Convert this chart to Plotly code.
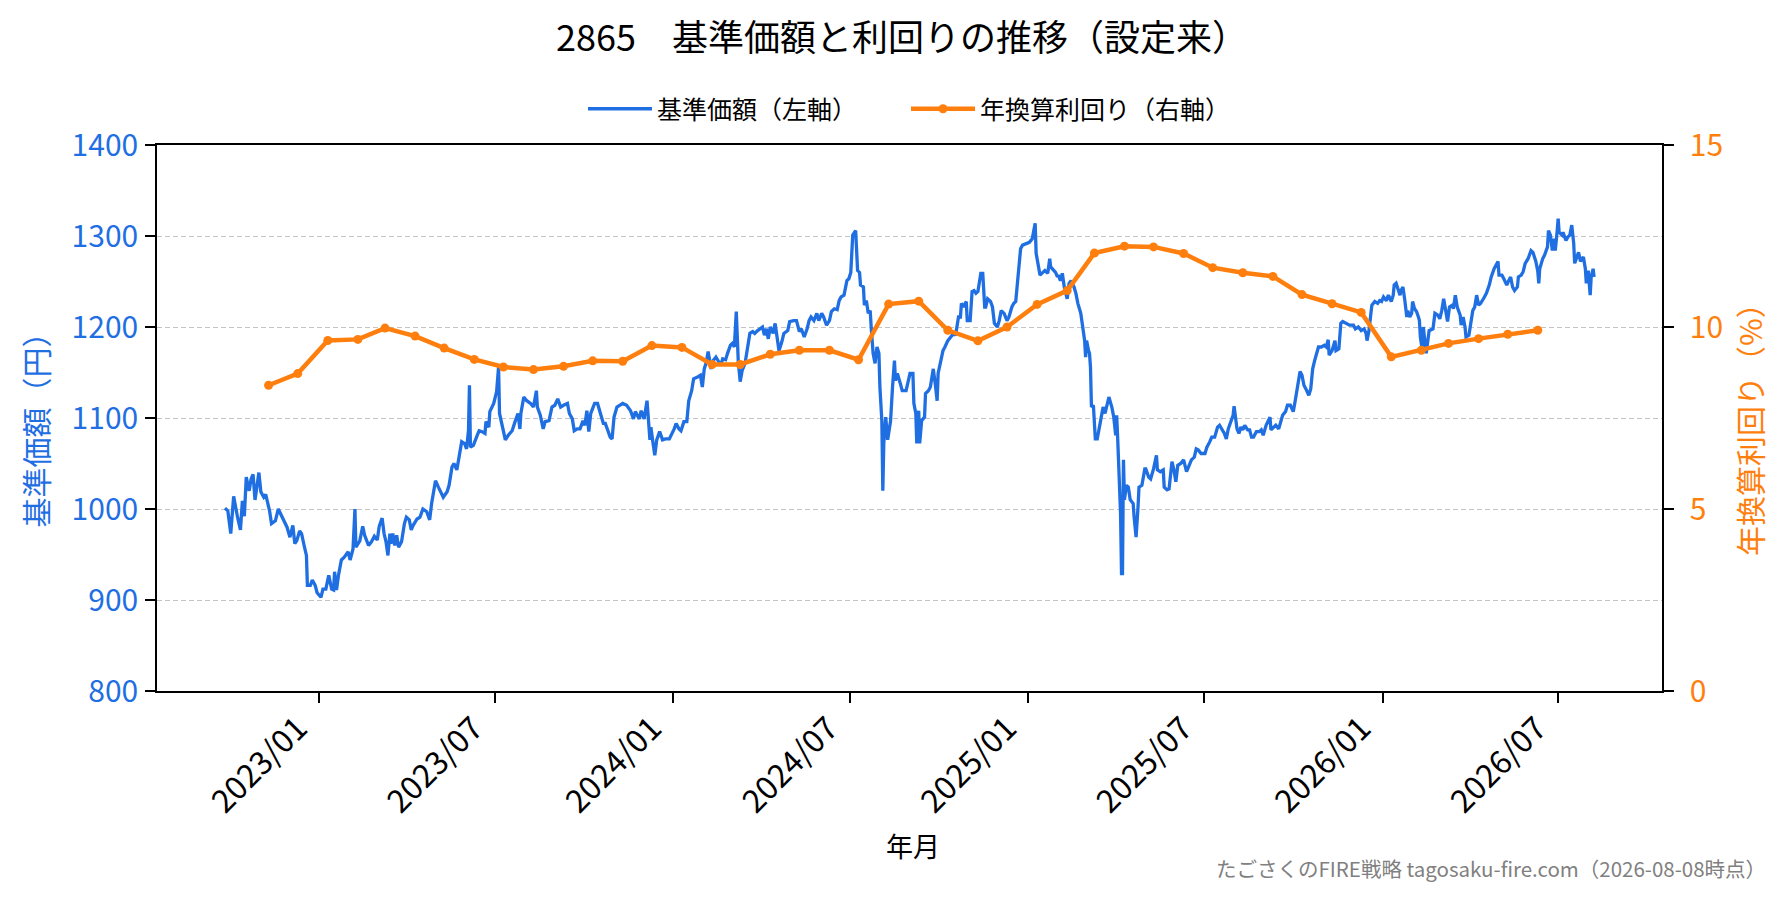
import pandas as pd
import plotly.graph_objects as go

# ---------------- data ----------------
BASE_DATE = "2023-01-01"  # price_day values are days counted from this date

price_day = [
    -97, -94, -91, -88, -84, -81, -79, -77, -75, -72, -70, -68, -66, -64, -62, -60, -57, -55, -51, -49,
    -45, -42, -39, -36, -33, -30, -27, -25, -23, -20, -18, -15, -13, -12, -9, -7, -4, -2, 2, 4,
    7, 10, 13, 15, 16, 18, 20, 23, 26, 30, 32, 35, 37, 38, 42, 45, 47, 51, 54, 57,
    60, 62, 65, 67, 69, 71, 73, 74, 76, 78, 80, 82, 85, 88, 90, 93, 95, 97, 101, 104,
    107, 111, 114, 116, 120, 123, 128, 132, 134, 137, 139, 142, 145, 147, 150, 152, 154, 155,
    156, 159, 163, 165, 168, 171, 172, 175, 176, 180, 183, 185, 186, 188, 192, 195, 199, 202,
    205, 207, 208, 211, 214, 218, 221, 224, 225, 228, 231, 233, 237, 240, 243, 246, 249, 252,
    256, 258, 261, 263, 266, 269, 272, 274, 276, 278, 280, 284, 287, 290, 293, 295, 298, 300,
    302, 304, 307, 310, 313, 317, 321,
    324, 326, 330, 332, 335, 338, 341, 342, 344, 346, 348, 351, 354, 357, 361, 363, 366, 368,
    371, 373, 376, 379, 381, 384, 386, 390, 393, 395, 397, 399, 401, 404, 406, 409, 411, 414,
    416, 419, 421, 424, 426, 428, 430, 432, 434, 436, 439, 441, 444, 447, 449, 452, 454, 457,
    459, 461, 463, 465, 468, 470, 472, 474, 477, 479, 483, 485, 489, 492, 495, 497, 500, 503,
    505, 507, 510, 513, 515, 518, 520, 523, 526, 528, 531, 534, 536, 538, 541, 544, 546, 548,
    550, 551, 553, 555, 557, 558, 561, 562, 564, 566, 568, 569, 571, 573, 575, 577, 578, 580,
    581, 582, 584, 586, 589, 591, 593, 594, 596, 599, 601, 605, 607, 609, 612, 613, 615, 616,
    618, 619, 621, 624, 625, 628, 630, 633, 635, 637, 638, 640, 643, 645, 648, 651, 654, 656,
    659, 661, 662, 664, 667, 668, 671, 673, 675, 677, 679, 682, 684, 686, 687, 689, 692, 694,
    696, 699, 701, 703, 706, 709, 711, 714, 716, 718, 720, 723, 725, 729, 732, 735, 738, 739,
    741, 743, 746, 748, 751, 753, 754, 757, 759, 761, 762, 764, 766, 768, 771, 773,
    775, 778, 780, 782, 785, 787, 789, 790, 791, 793, 794, 795,
    796, 798, 800, 802, 805, 808, 810, 812, 814, 817, 819, 821, 822, 823,
    825, 826, 827, 828, 829, 830, 832, 834, 836, 839, 840, 842, 844, 845, 848, 851, 852, 855,
    857, 860, 863, 864, 867, 870, 871, 874, 876, 879, 881, 883, 885, 888, 891, 894, 896, 899,
    902, 904, 906, 909, 913, 915, 918, 920, 923, 926, 928, 930, 933, 935, 937, 939, 942, 943,
    944, 946, 948, 950, 952, 954, 957, 959, 961, 963, 966, 969, 971, 973, 976, 978, 980, 981,
    984, 986, 989, 991, 993, 996, 998, 1001, 1004, 1006, 1008, 1011, 1013, 1015, 1017, 1020,
    1022, 1024, 1026, 1028, 1030, 1033, 1036, 1038, 1040, 1041, 1044, 1047, 1048, 1051, 1053,
    1055, 1059, 1062, 1066, 1068, 1071, 1074, 1077, 1079, 1080, 1082, 1084, 1085, 1088, 1091,
    1093, 1095, 1097, 1100, 1102, 1105, 1107, 1108, 1110, 1112, 1114, 1115, 1117, 1119, 1121,
    1122, 1124, 1126, 1127, 1129, 1131, 1133, 1134, 1135, 1137, 1138,
    1141, 1144, 1148, 1150, 1153, 1155, 1157, 1159, 1161, 1163, 1165, 1168, 1169, 1171, 1173,
    1176, 1177, 1179, 1181, 1182, 1185, 1187, 1189, 1191, 1193, 1195, 1197, 1200, 1203, 1206,
    1208, 1211, 1213, 1215, 1216, 1219, 1221, 1224, 1226, 1228, 1230, 1232, 1235, 1236, 1239,
    1241, 1243, 1246, 1249, 1251, 1254, 1256, 1257, 1258, 1261, 1263, 1266, 1267, 1269, 1271,
    1273, 1274, 1276, 1277, 1278, 1281, 1282, 1285, 1287, 1289, 1291, 1293, 1294, 1296, 1298,
    1300, 1303, 1305, 1306, 1308, 1310, 1311, 1313, 1314,
]

price_value = [
    1001, 998, 973, 1014, 991, 977, 1009, 992, 1035, 1020, 1033, 1038, 1010, 1024, 1040, 1019, 1013, 1016, 998, 984,
    987, 1000, 993, 986, 980, 969, 982, 962, 965, 976, 973, 958, 949, 916, 916, 922, 916, 908, 903, 912,
    912, 927, 912, 911, 931, 911, 927, 944, 947, 953, 944, 956, 1000, 958, 965, 981, 971, 960, 964, 970,
    966, 981, 990, 973, 964, 949, 973, 962, 973, 960, 971, 958, 964, 984, 991, 988, 977, 982, 989, 991,
    1000, 997, 988, 1006, 1031, 1024, 1013, 1019, 1026, 1046, 1050, 1043, 1059, 1074, 1072, 1066, 1086, 1136,
    1068, 1070, 1081, 1086, 1085, 1083, 1096, 1090, 1107, 1116, 1129, 1156, 1105, 1094, 1076, 1081, 1086, 1096,
    1105, 1088, 1105, 1123, 1119, 1116, 1112, 1130, 1112, 1103, 1088, 1096, 1097, 1112, 1114, 1121, 1112, 1114,
    1116, 1105, 1099, 1086, 1088, 1088, 1097, 1092, 1108, 1085, 1105, 1116, 1116, 1105, 1094, 1094, 1085, 1079,
    1077, 1101, 1112, 1114, 1116, 1114, 1108,
    1099, 1107, 1099, 1108, 1099, 1119, 1076, 1090, 1074, 1059, 1076, 1085, 1076, 1077, 1077, 1081, 1088, 1094,
    1088, 1086, 1096, 1096, 1119, 1130, 1143, 1145, 1147, 1134, 1154, 1161, 1173, 1154, 1163, 1167, 1163, 1158,
    1165, 1164, 1171, 1180, 1182, 1178, 1217, 1163, 1140, 1152, 1160, 1174, 1193, 1195, 1193, 1196, 1198, 1200,
    1191, 1198, 1187, 1200, 1193, 1204, 1189, 1174, 1184, 1193, 1196, 1206, 1207, 1207, 1195, 1198, 1189, 1198,
    1207, 1211, 1207, 1215, 1207, 1215, 1211, 1202, 1207, 1217, 1220, 1219, 1229, 1233, 1235, 1251, 1253, 1260,
    1301, 1303, 1306, 1262, 1260, 1246, 1244, 1224, 1229, 1215, 1218, 1200, 1171, 1160, 1178, 1171, 1134, 1097,
    1020, 1072, 1101, 1076, 1097, 1134, 1163, 1141, 1149, 1138, 1130, 1130, 1138, 1149, 1149, 1116, 1105, 1072,
    1108, 1072, 1097, 1101, 1127, 1130, 1134, 1154, 1138, 1119, 1149, 1160, 1174, 1178, 1185, 1189, 1193, 1191,
    1211, 1211, 1226, 1222, 1228, 1207, 1207, 1239, 1240, 1237, 1239, 1259, 1259, 1222, 1222, 1231, 1228, 1222,
    1204, 1200, 1207, 1218, 1215, 1207, 1211, 1222, 1226, 1228, 1251, 1286, 1290, 1292, 1293, 1297, 1314, 1281,
    1266, 1257, 1260, 1262, 1259, 1275, 1266, 1262, 1260, 1255, 1257, 1251, 1259, 1244, 1231, 1248,
    1251, 1244, 1237, 1226, 1215, 1200, 1185, 1167, 1185, 1174, 1171, 1156,
    1112, 1114, 1077, 1077, 1094, 1112, 1105, 1116, 1123, 1112, 1101, 1081, 1103, 1079,
    1032, 995, 929, 929, 1054, 1010, 1026, 1024, 1010, 1006, 991, 969, 1002, 1024, 1026, 1044, 1044, 1035,
    1033, 1044, 1059, 1043, 1041, 1043, 1024, 1021, 1022, 1052, 1043, 1030, 1048, 1050, 1054, 1041, 1046, 1054,
    1057, 1066, 1065, 1061, 1061, 1068, 1074, 1079, 1079, 1090, 1092, 1088, 1083, 1077, 1088, 1094, 1103, 1113,
    1105, 1088, 1083, 1090, 1087, 1092, 1087, 1087, 1079, 1079, 1085, 1085, 1087, 1081, 1092, 1097, 1101, 1087,
    1090, 1092, 1088, 1097, 1103, 1107, 1114, 1114, 1107, 1119, 1130, 1151, 1147, 1136, 1132, 1125,
    1132, 1154, 1163, 1171, 1178, 1178, 1180, 1178, 1186, 1169, 1174, 1185, 1174, 1176, 1204,
    1206, 1204, 1202, 1202, 1198, 1200, 1196, 1198, 1193, 1185, 1196, 1215, 1224, 1228, 1226,
    1229, 1228, 1233, 1229, 1235, 1228, 1235, 1246, 1248, 1240, 1235, 1240, 1244, 1229, 1211,
    1218, 1211, 1215, 1228, 1220, 1217, 1211, 1207, 1189, 1174, 1200,
    1171, 1196, 1198, 1215, 1213, 1209, 1218, 1231, 1218, 1206, 1222, 1224, 1220, 1235, 1222,
    1213, 1202, 1211, 1200, 1189, 1191, 1206, 1218, 1222, 1235, 1224, 1226, 1231, 1237, 1246,
    1255, 1264, 1268, 1272, 1257, 1257, 1253, 1246, 1251, 1255, 1244, 1240, 1244, 1255, 1257,
    1261, 1270, 1275, 1284, 1282, 1272, 1261, 1248, 1264, 1275, 1279, 1288, 1306, 1301, 1284,
    1297, 1284, 1306, 1319, 1304, 1301, 1304, 1295, 1299, 1301, 1312, 1292, 1270, 1277, 1282,
    1272, 1277, 1264, 1248, 1262, 1235, 1255, 1264, 1255,
]

yield_dates = [
    "2022-11-10", "2022-12-10",
    "2023-01-10", "2023-02-10", "2023-03-10", "2023-04-10", "2023-05-10", "2023-06-10",
    "2023-07-10", "2023-08-10", "2023-09-10", "2023-10-10", "2023-11-10", "2023-12-10",
    "2024-01-10", "2024-02-10", "2024-03-10", "2024-04-10", "2024-05-10", "2024-06-10",
    "2024-07-10", "2024-08-10", "2024-09-10", "2024-10-10", "2024-11-10", "2024-12-10",
    "2025-01-10", "2025-02-10", "2025-03-10", "2025-04-10", "2025-05-10", "2025-06-10",
    "2025-07-10", "2025-08-10", "2025-09-10", "2025-10-10", "2025-11-10", "2025-12-10",
    "2026-01-10", "2026-02-10", "2026-03-10", "2026-04-10", "2026-05-10", "2026-06-10",
]
yield_pct = [
    8.40, 8.72,
    9.63, 9.66, 9.97, 9.75, 9.42, 9.11,
    8.90, 8.83, 8.92, 9.07, 9.06, 9.49,
    9.44, 8.97, 8.97, 9.25, 9.36, 9.36,
    9.10, 10.63, 10.71, 9.91, 9.62, 10.00,
    10.62, 11.00, 12.03, 12.22, 12.20, 12.02,
    11.63, 11.49, 11.39, 10.89, 10.64, 10.40,
    9.18, 9.36, 9.55, 9.68, 9.80, 9.91,
]

tick_dates = ["2023-01-01", "2023-07-01", "2024-01-01", "2024-07-01",
              "2025-01-01", "2025-07-01", "2026-01-01", "2026-07-01"]
tick_labels = ["2023/01", "2023/07", "2024/01", "2024/07",
               "2025/01", "2025/07", "2026/01", "2026/07"]

TITLE = "2865\u3000基準価額と利回りの推移（設定来）"
NAME_PRICE = "基準価額（左軸）"
NAME_YIELD = "年換算利回り（右軸）"
Y1_TITLE = "基準価額（円）"
Y2_TITLE = "年換算利回り（%）"
X_TITLE = "年月"
FOOTNOTE = "たごさくのFIRE戦略 tagosaku-fire.com（2026-08-08時点）"

# ---------------- styling ----------------
BLUE = "#1f6fe3"
ORANGE = "#ff7f0e"
FONT = "Noto Sans CJK JP"

price_dates = pd.Timestamp(BASE_DATE) + pd.to_timedelta(price_day, unit="D")

fig = go.Figure()
fig.add_trace(go.Scatter(
    x=price_dates, y=price_value, name=NAME_PRICE, mode="lines",
    line=dict(color=BLUE, width=3.3), yaxis="y",
))
fig.add_trace(go.Scatter(
    x=pd.to_datetime(yield_dates), y=yield_pct, name=NAME_YIELD, mode="lines+markers",
    line=dict(color=ORANGE, width=4.5), marker=dict(color=ORANGE, size=9), yaxis="y2",
))

W, H = 1791, 900
L, R, T, B = 157, 129, 145, 209
PW, PH = W - L - R, H - T - B


def px(xp):
    return (xp - L) / PW


def py(yp):
    return (H - B - yp) / PH


fig.update_layout(
    width=W, height=H,
    margin=dict(l=L, r=R, t=T, b=B, pad=0),
    paper_bgcolor="white", plot_bgcolor="white",
    font=dict(family=FONT, color="black", size=24),
    title=dict(text=TITLE, x=902 / W, xref="container", xanchor="center",
               y=1 - 38 / H, yref="container", yanchor="middle",
               font=dict(size=36, family=FONT, color="black")),
    showlegend=True,
    legend=dict(orientation="h", x=px(583), xanchor="left", y=py(109), yanchor="middle",
                font=dict(size=25, family=FONT), bgcolor="rgba(0,0,0,0)",
                itemwidth=64, entrywidth=244, entrywidthmode="pixels", tracegroupgap=0),
    xaxis=dict(
        type="date", range=["2022-07-18", "2026-10-16"],
        tickmode="array", tickvals=tick_dates, ticktext=tick_labels, tickangle=-45,
        ticks="outside", ticklen=10, tickwidth=1.6, tickcolor="black",
        tickfont=dict(size=32, color="black", family=FONT),
        ticklabelshift=-21, ticklabelstandoff=-6,
        showline=True, linecolor="black", linewidth=1.6, mirror=True,
        showgrid=False, zeroline=False,
    ),
    yaxis=dict(
        range=[800, 1400], tickmode="linear", tick0=800, dtick=100,
        ticks="outside", ticklen=10, tickwidth=1.6, tickcolor="black",
        tickfont=dict(size=30, color=BLUE, family=FONT), ticklabelstandoff=1,
        showline=True, linecolor="black", linewidth=1.6,
        showgrid=True, gridcolor="#c4c4c4", gridwidth=1.2, griddash="5px,3px",
        zeroline=False,
    ),
    yaxis2=dict(
        range=[0, 15], tickmode="linear", tick0=0, dtick=5,
        overlaying="y", side="right", anchor="x",
        ticks="outside", ticklen=10, tickwidth=1.6, tickcolor="black",
        tickfont=dict(size=30, color=ORANGE, family=FONT), ticklabelstandoff=10,
        showline=True, linecolor="black", linewidth=1.6,
        showgrid=False, zeroline=False,
    ),
)

fig.add_annotation(text=Y1_TITLE, xref="paper", yref="paper", x=px(34.5), y=py(422),
                   xanchor="center", yanchor="middle", textangle=-90, showarrow=False,
                   font=dict(size=30, color=BLUE, family=FONT))
fig.add_annotation(text=Y2_TITLE, xref="paper", yref="paper", x=px(1749), y=py(422),
                   xanchor="center", yanchor="middle", textangle=-90, showarrow=False,
                   font=dict(size=30, color=ORANGE, family=FONT))
fig.add_annotation(text=X_TITLE, xref="paper", yref="paper", x=px(913), y=py(846),
                   xanchor="center", yanchor="middle", showarrow=False,
                   font=dict(size=27, color="black", family=FONT))
fig.add_annotation(text=FOOTNOTE, xref="paper", yref="paper", x=px(1768), y=py(868),
                   xanchor="right", yanchor="middle", showarrow=False,
                   font=dict(size=20.5, color="#808080", family=FONT))

fig.write_html("out.html", config={"displayModeBar": False},
               post_script="document.body.style.margin='0';")
